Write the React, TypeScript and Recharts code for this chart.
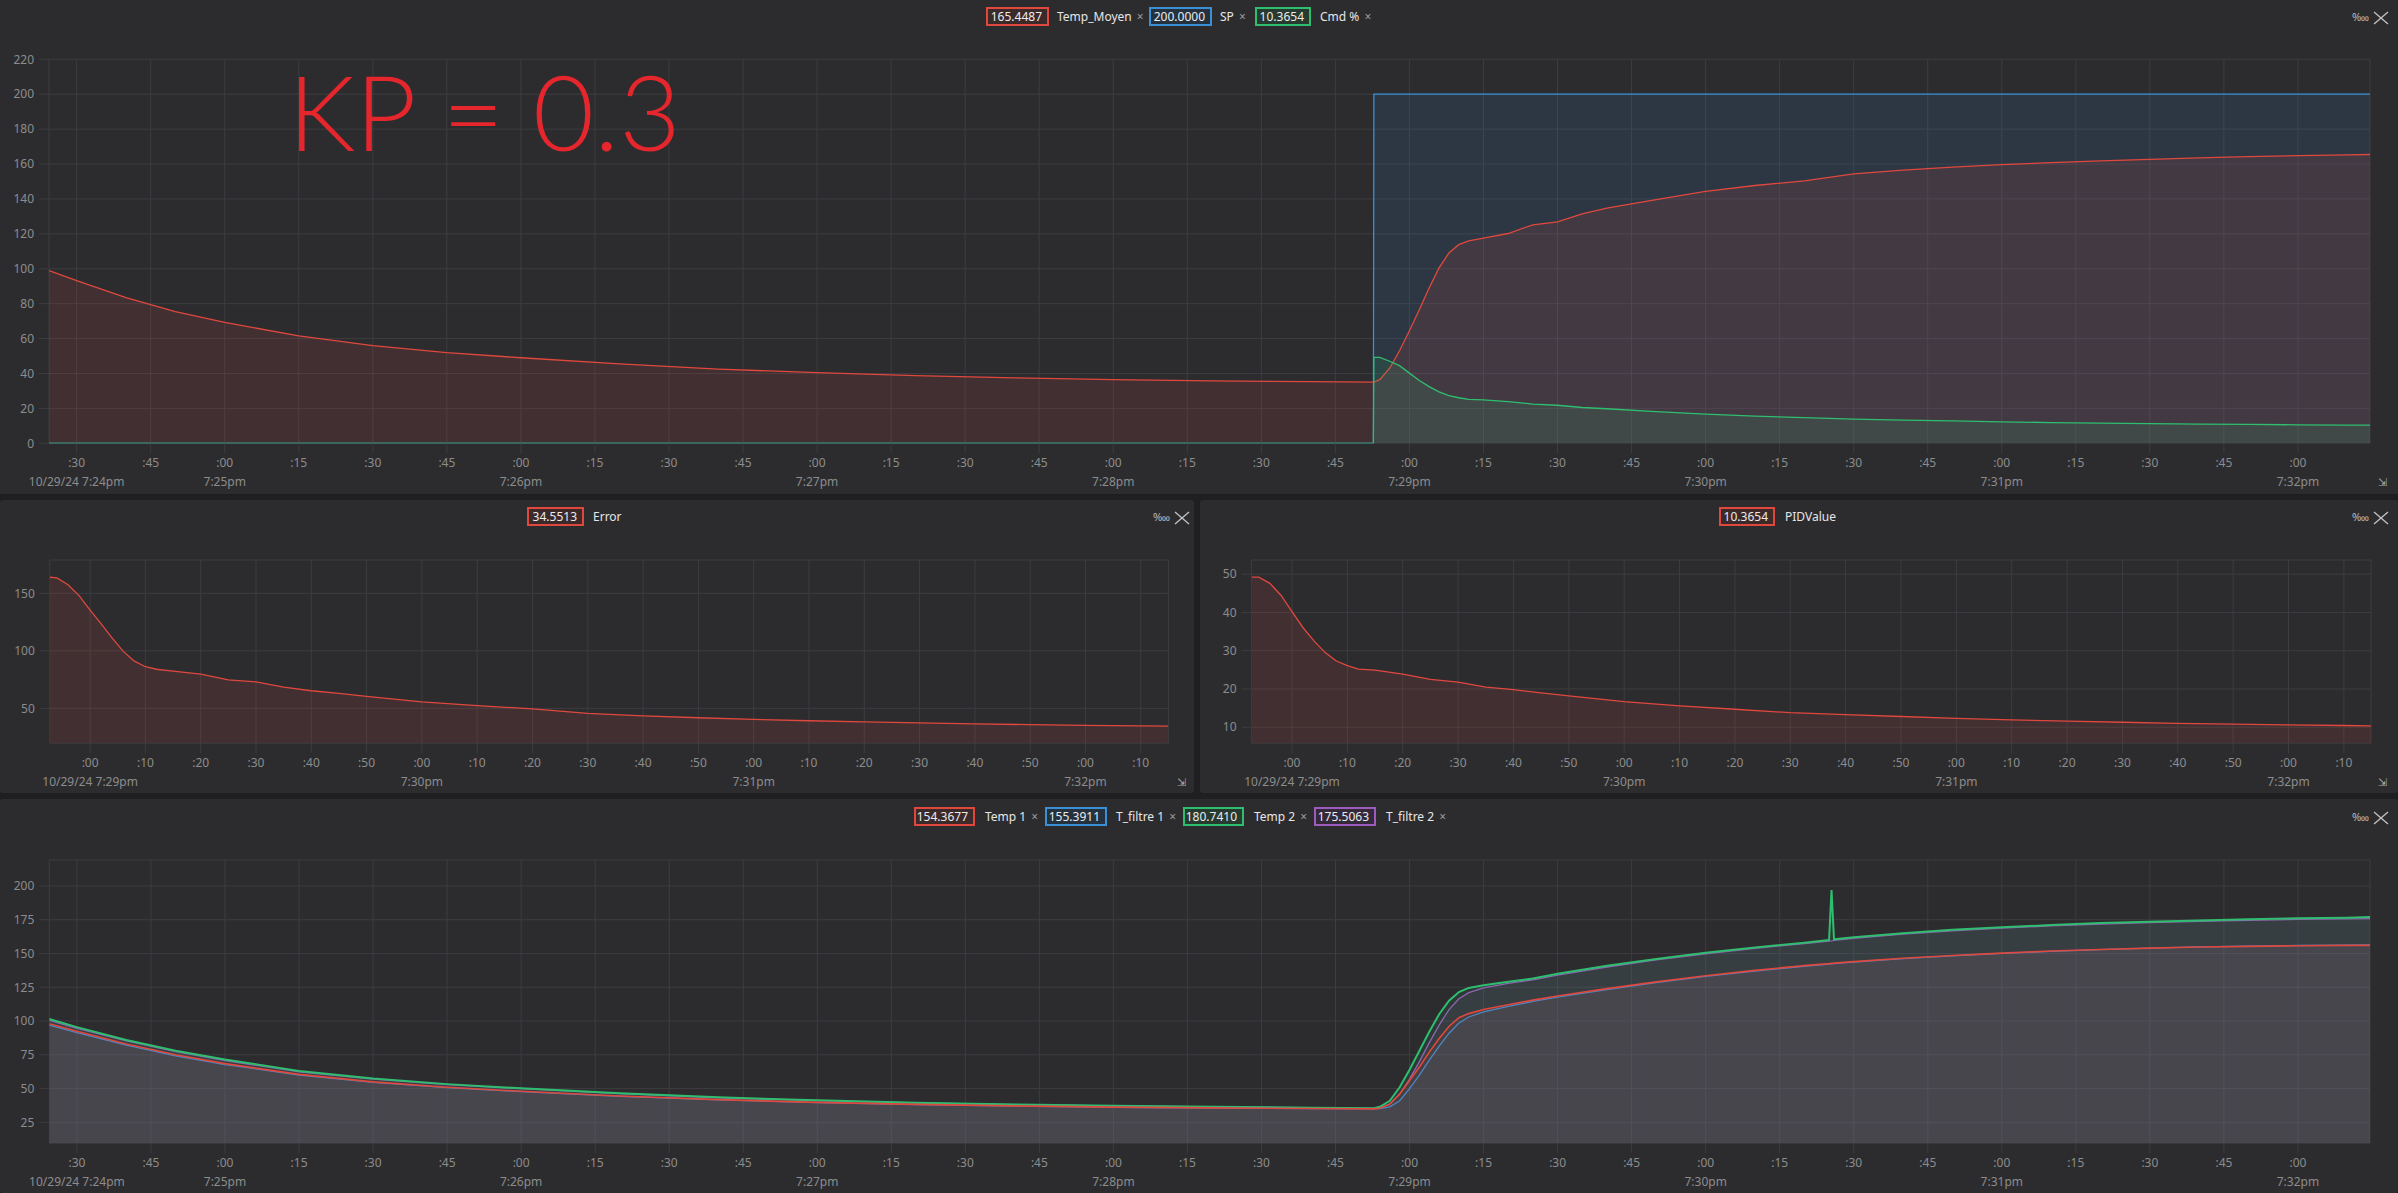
import React from "react"
import { AreaChart, Area, XAxis, YAxis, CartesianGrid } from "recharts"

// time axis: seconds after 7:24:00pm (10/29/24)
const topTime = [24.4, 30, 40, 50, 60, 75, 90, 105, 120, 140, 160, 180, 200, 220, 240, 260, 280, 292.7, 292.8, 294, 296, 298, 300, 302, 304, 306, 308, 310, 312, 315, 320, 325, 330, 335, 340, 350, 360, 370, 380, 390, 400, 410, 420, 430, 440, 450, 460, 470, 480, 490, 494.6]
const tempMoyen = [98.9, 93.2, 83.5, 75.5, 69.3, 61.5, 56, 52, 49, 45.5, 42.5, 40.5, 38.8, 37.5, 36.5, 35.8, 35.3, 35, 35, 36.5, 43, 53, 64.5, 76.5, 89, 100.5, 109, 113.8, 116, 117.6, 120.2, 125.2, 126.9, 131.5, 134.7, 139.6, 144.3, 147.7, 150.4, 154.4, 156.5, 158.2, 159.6, 160.8, 161.8, 162.7, 163.5, 164.2, 164.8, 165.2, 165.45]
const spValues = [0, 0, 0, 0, 0, 0, 0, 0, 0, 0, 0, 0, 0, 0, 0, 0, 0, 0, 200, 200, 200, 200, 200, 200, 200, 200, 200, 200, 200, 200, 200, 200, 200, 200, 200, 200, 200, 200, 200, 200, 200, 200, 200, 200, 200, 200, 200, 200, 200, 200, 200]
const cmdValues = [0, 0, 0, 0, 0, 0, 0, 0, 0, 0, 0, 0, 0, 0, 0, 0, 0, 0, 49.2, 49.2, 47, 44.5, 40.2, 36, 32.5, 29.5, 27.3, 26.1, 25.2, 24.9, 23.9, 22.5, 21.8, 20.5, 19.8, 18.2, 16.7, 15.6, 14.7, 13.8, 13.3, 12.8, 12.3, 11.9, 11.6, 11.3, 11.0, 10.8, 10.6, 10.45, 10.37]

const midTime = [292.7, 294, 296, 298, 300, 302, 304, 306, 308, 310, 312, 315, 320, 325, 330, 335, 340, 345, 350, 360, 370, 380, 390, 400, 410, 420, 430, 440, 450, 460, 470, 480, 490, 495]
const errorValues = [164, 163.5, 157.5, 148, 135.5, 123.5, 111, 99.5, 91, 86.2, 84, 82.4, 79.8, 74.8, 73.1, 68.5, 65.3, 63, 60.4, 55.7, 52.3, 49.6, 45.6, 43.5, 41.8, 40.4, 39.2, 38.2, 37.3, 36.5, 35.8, 35.2, 34.8, 34.55]
const pidValues = [49.2, 49.2, 47.6, 44.5, 40.2, 36, 32.5, 29.5, 27.3, 26.1, 25.2, 24.9, 23.9, 22.5, 21.8, 20.5, 19.8, 19, 18.2, 16.7, 15.6, 14.7, 13.8, 13.3, 12.8, 12.3, 11.9, 11.6, 11.3, 11.0, 10.8, 10.6, 10.45, 10.37]

const botTime = [24.4, 30, 40, 50, 60, 75, 90, 105, 120, 140, 160, 180, 200, 220, 240, 260, 280, 292.8, 294, 296, 298, 300, 302, 304, 306, 308, 310, 312, 315, 320, 325, 330, 340, 350, 360, 370, 380, 385, 385.5, 386, 390, 400, 410, 420, 430, 440, 450, 460, 470, 480, 490, 494.6]
const temp1 = [98, 92.5, 83, 75, 68.5, 60.5, 55, 51, 48, 44.5, 41.8, 39.8, 38.3, 37.2, 36.3, 35.7, 35.3, 35, 35.5, 38.5, 46, 56, 66, 77, 87, 96, 102.5, 105.5, 108.5, 112, 115.5, 118.5, 124, 129, 133.5, 137.5, 141, 142.5, 142.7, 142.9, 144, 146.5, 148.5, 150.3, 151.8, 153, 154, 154.8, 155.3, 155.7, 156, 156]
const tFiltre1 = [97, 91.5, 82.2, 74.3, 67.8, 60, 54.6, 50.7, 47.7, 44.3, 41.6, 39.6, 38.1, 37, 36.2, 35.6, 35.2, 35, 35.1, 36.5, 41, 50, 60, 71, 81.5, 91, 98.5, 103, 106.8, 110.8, 114.5, 117.7, 123.3, 128.4, 133, 137, 140.5, 142.1, 142.3, 142.5, 143.6, 146.2, 148.3, 150.1, 151.6, 152.9, 154, 154.9, 155.5, 155.9, 156.2, 156.3]
const temp2 = [101.5, 95.5, 86, 78, 71.5, 63, 57.5, 53.3, 50.2, 46.5, 43.5, 41.3, 39.6, 38.3, 37.3, 36.5, 35.9, 35.5, 36.5, 41, 51, 64, 78, 92, 105, 115, 121.5, 124.5, 126.5, 129, 131.5, 135, 141, 146, 150.5, 154.5, 158, 160, 197, 160.5, 162, 165, 167.5, 169.5, 171, 172.5, 173.5, 174.5, 175.3, 176, 176.5, 177]
const tFiltre2 = [100.5, 94.6, 85.3, 77.3, 70.8, 62.4, 57, 52.9, 49.9, 46.2, 43.2, 41.1, 39.4, 38.1, 37.1, 36.4, 35.8, 35.4, 35.8, 38.5, 46, 57, 70, 84, 97, 108.5, 116.5, 121, 124.5, 127.8, 130.5, 134, 140, 145.2, 149.8, 153.8, 157.3, 159.2, 159.4, 159.7, 161.2, 164.3, 166.8, 168.8, 170.4, 171.8, 172.9, 173.8, 174.6, 175.2, 175.6, 175.8]

const wideTicks = [30, 45, 60, 75, 90, 105, 120, 135, 150, 165, 180, 195, 210, 225, 240, 255, 270, 285, 300, 315, 330, 345, 360, 375, 390, 405, 420, 435, 450, 465, 480]
const midTicks = [300, 310, 320, 330, 340, 350, 360, 370, 380, 390, 400, 410, 420, 430, 440, 450, 460, 470, 480, 490]
const topYTicks = [0, 20, 40, 60, 80, 100, 120, 140, 160, 180, 200, 220]
const errorYTicks = [50, 100, 150]
const pidYTicks = [10, 20, 30, 40, 50]
const botYTicks = [25, 50, 75, 100, 125, 150, 175, 200]

const RED = "#e0483e"
const BLUE = "#3b8fd4"
const GREEN = "#2fbe6f"
const PURPLE = "#9d5bbd"
const GRID = "#3d3d41"
const TICK = "#8c8c8c"
const PANEL = "#2c2c2f"
const INK = "#e5262d"

const topData = topTime.map((t, i) => ({ t, temp: tempMoyen[i], sp: spValues[i], cmd: cmdValues[i] }))
const midData = midTime.map((t, i) => ({ t, err: errorValues[i], pid: pidValues[i] }))
const botData = botTime.map((t, i) => ({ t, t1: temp1[i], f1: tFiltre1[i], t2: temp2[i], f2: tFiltre2[i] }))

function TimeTick(props: any) {
  const { x, y, payload, first } = props
  const t = payload.value
  const sec = Math.round(t % 60)
  const min = 24 + Math.floor(t / 60)
  let sub = ""
  if (t === first) sub = `10/29/24 7:${min}pm`
  else if (sec === 0) sub = `7:${min}pm`
  return (
    <g>
      <text x={x} y={y + 13.7} textAnchor="middle" fill={TICK} fontSize={12}>
        {":" + String(sec).padStart(2, "0")}
      </text>
      {sub && (
        <text x={x} y={y + 32.5} textAnchor="middle" fill={TICK} fontSize={12}>
          {sub}
        </text>
      )}
    </g>
  )
}

interface SeriesDef { key: string; color: string; opacity?: number; width?: number }

interface TimeChartProps {
  x: number; y: number; w: number; h: number
  plotLeft: number; plotTop: number; plotRight: number; plotBottom: number
  data: any[]; series: SeriesDef[]
  xDomain: [number, number]; yDomain: [number, number]
  xTicks: number[]; yTicks: number[]
}

function TimeChart(p: TimeChartProps) {
  return (
    <div style={{ position: "absolute", left: p.x, top: p.y }}>
      <AreaChart
        width={p.w}
        height={p.h}
        data={p.data}
        margin={{ top: p.plotTop - p.y, right: p.x + p.w - p.plotRight, bottom: 0, left: 0 }}
      >
        <CartesianGrid stroke={GRID} strokeWidth={1} />
        <XAxis
          dataKey="t"
          type="number"
          domain={p.xDomain}
          ticks={p.xTicks}
          allowDataOverflow
          interval={0}
          height={p.y + p.h - p.plotBottom}
          tickSize={10}
          tickMargin={0}
          axisLine={false}
          tickLine={{ stroke: GRID }}
          tick={(tp: any) => <TimeTick {...tp} first={p.xTicks[0]} />}
        />
        <YAxis
          type="number"
          domain={p.yDomain}
          ticks={p.yTicks}
          allowDataOverflow
          interval={0}
          width={p.plotLeft - p.x}
          tickSize={10}
          tickMargin={5}
          axisLine={false}
          tickLine={{ stroke: GRID }}
          tick={{ fill: TICK, fontSize: 12 }}
        />
        {p.series.map((s) => (
          <Area
            key={s.key}
            type="linear"
            dataKey={s.key}
            stroke={s.color}
            strokeWidth={s.width ?? 1.3}
            fill={s.color}
            fillOpacity={s.opacity ?? 0.12}
            dot={false}
            activeDot={false}
            isAnimationActive={false}
          />
        ))}
      </AreaChart>
    </div>
  )
}

function ValueBox({ x, y, w, color, bg, value }: { x: number; y: number; w: number; color: string; bg: string; value: string }) {
  return (
    <div
      style={{
        position: "absolute", left: x, top: y, width: w, height: 19, boxSizing: "border-box",
        border: `2px solid ${color}`, background: bg, color: "#ececec", fontSize: 12,
        lineHeight: "15px", textAlign: "right", paddingRight: 5,
      }}
    >
      {value}
    </div>
  )
}

function Label({ x, y, text, close = true }: { x: number; y: number; text: string; close?: boolean }) {
  return (
    <div style={{ position: "absolute", left: x, top: y, fontSize: 12, lineHeight: "19px", color: "#e6e6e6", whiteSpace: "nowrap" }}>
      {text}
      {close && <span style={{ color: "#9a9a9a", marginLeft: 2 }}>×</span>}
    </div>
  )
}

function PanelIcons({ x, y }: { x: number; y: number }) {
  return (
    <>
      <div style={{ position: "absolute", left: x, top: y - 8, fontSize: 11, color: "#b5b5b5" }}>‱</div>
      <svg style={{ position: "absolute", left: x + 21, top: y - 6 }} width={16} height={14}>
        <line x1={1} y1={1} x2={15} y2={13} stroke="#c4c4c4" strokeWidth={1.3} />
        <line x1={15} y1={1} x2={1} y2={13} stroke="#c4c4c4" strokeWidth={1.3} />
      </svg>
    </>
  )
}

function Corner({ x, y }: { x: number; y: number }) {
  return <div style={{ position: "absolute", left: x, top: y, fontSize: 11, color: "#aaaaaa" }}>⇲</div>
}

export default function App() {
  return (
    <div
      style={{
        position: "absolute", left: 0, top: 0, width: 2398, height: 1193, overflow: "hidden",
        background: "#1f1f21", fontFamily: "'Noto Sans', 'Open Sans', sans-serif",
      }}
    >
      {/* panels */}
      <div style={{ position: "absolute", left: 0, top: 0, width: 2398, height: 494, background: PANEL }} />
      <div style={{ position: "absolute", left: 0, top: 500, width: 1194, height: 293, background: PANEL, borderRadius: 3 }} />
      <div style={{ position: "absolute", left: 1200, top: 500, width: 1198, height: 293, background: PANEL, borderRadius: 3 }} />
      <div style={{ position: "absolute", left: 0, top: 799, width: 2398, height: 394, background: PANEL, borderRadius: 3 }} />

      {/* Temp_Moyen / SP / Cmd */}
      <TimeChart
        x={0} y={0} w={2398} h={494}
        plotLeft={49} plotTop={59.3} plotRight={2370} plotBottom={443.3}
        data={topData}
        series={[{ key: "sp", color: BLUE }, { key: "temp", color: RED }, { key: "cmd", color: GREEN }]}
        xDomain={[24.4, 494.6]} yDomain={[0, 220]}
        xTicks={wideTicks} yTicks={topYTicks}
      />
      <ValueBox x={986} y={7} w={63} color={RED} bg="#3c2a2b" value="165.4487" />
      <Label x={1057} y={7} text="Temp_Moyen " />
      <ValueBox x={1149} y={7} w={63} color={BLUE} bg="#243240" value="200.0000" />
      <Label x={1220} y={7} text="SP " />
      <ValueBox x={1255} y={7} w={56} color={GREEN} bg="#263a2f" value="10.3654" />
      <Label x={1320} y={7} text="Cmd % " />
      <PanelIcons x={2352} y={17} />
      <Corner x={2378} y={474} />

      {/* handwritten note */}
      <svg style={{ position: "absolute", left: 0, top: 0 }} width={800} height={200}>
        <text transform="translate(288,151) scale(1.02,1)" fill={INK} fontSize={104} fontFamily="Lato" fontWeight={300}>
          KP = 0.3
        </text>
      </svg>

      {/* Error */}
      <TimeChart
        x={0} y={500} w={1194} h={293}
        plotLeft={49.75} plotTop={560} plotRight={1168.4} plotBottom={743.3}
        data={midData}
        series={[{ key: "err", color: RED }]}
        xDomain={[292.7, 495]} yDomain={[19.6, 179]}
        xTicks={midTicks} yTicks={errorYTicks}
      />
      <ValueBox x={527} y={507} w={57} color={RED} bg="#3c2a2b" value="34.5513" />
      <Label x={593} y={507} text="Error" close={false} />
      <PanelIcons x={1153} y={517} />
      <Corner x={1177} y={774} />

      {/* PIDValue */}
      <TimeChart
        x={1200} y={500} w={1198} h={293}
        plotLeft={1251.6} plotTop={560} plotRight={2371} plotBottom={743.3}
        data={midData}
        series={[{ key: "pid", color: RED }]}
        xDomain={[292.7, 494.9]} yDomain={[5.8, 53.7]}
        xTicks={midTicks} yTicks={pidYTicks}
      />
      <ValueBox x={1719} y={507} w={56} color={RED} bg="#3c2a2b" value="10.3654" />
      <Label x={1785} y={507} text="PIDValue" close={false} />
      <PanelIcons x={2352} y={517} />
      <Corner x={2378} y={774} />

      {/* Temp 1 / T_filtre 1 / Temp 2 / T_filtre 2 */}
      <TimeChart
        x={0} y={799} w={2398} h={394}
        plotLeft={49.3} plotTop={860} plotRight={2370} plotBottom={1143.3}
        data={botData}
        series={[
          { key: "f2", color: PURPLE, opacity: 0.1 },
          { key: "t2", color: GREEN, opacity: 0.1, width: 2 },
          { key: "f1", color: BLUE, opacity: 0.11 },
          { key: "t1", color: RED, opacity: 0.1, width: 1.6 },
        ]}
        xDomain={[24.4, 494.6]} yDomain={[9.5, 219.2]}
        xTicks={wideTicks} yTicks={botYTicks}
      />
      <ValueBox x={914} y={807} w={61} color={RED} bg="#3c2a2b" value="154.3677" />
      <Label x={985} y={807} text="Temp 1 " />
      <ValueBox x={1045} y={807} w={62} color={BLUE} bg="#243240" value="155.3911" />
      <Label x={1116} y={807} text="T_filtre 1 " />
      <ValueBox x={1183} y={807} w={61} color={GREEN} bg="#263a2f" value="180.7410" />
      <Label x={1254} y={807} text="Temp 2 " />
      <ValueBox x={1314} y={807} w={62} color={PURPLE} bg="#33293b" value="175.5063" />
      <Label x={1386} y={807} text="T_filtre 2 " />
      <PanelIcons x={2352} y={817} />
    </div>
  )
}
